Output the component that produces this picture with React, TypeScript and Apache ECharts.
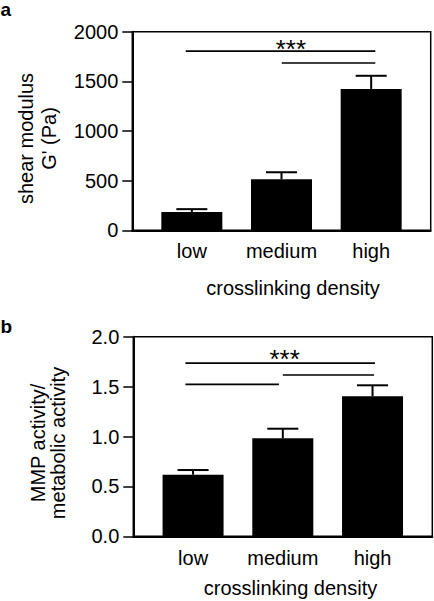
import React, { useEffect, useRef } from "react";
import * as echarts from "echarts";

// ---------- data ----------
const categories = ["low", "medium", "high"];

// panel a: shear modulus G' (Pa)
const modulusMean = [184, 513, 1424];
const modulusErr = [29, 71, 132];
const modulusTicks = { min: 0, max: 2000, interval: 500 };
// significance bars: [fromCategory, fromOffset(bands), toCategory, toOffset(bands), level]
const modulusSig = [
  [0, -0.068, 2, 0.046, 1805],
  [1, 0.003, 2, 0.046, 1685],
];
const modulusStars = [[1, 0.104, 1827]];

// panel b: MMP activity / metabolic activity
const mmpMean = [0.617, 0.982, 1.403];
const mmpErr = [0.047, 0.096, 0.11];
const mmpTicks = { min: 0, max: 2, interval: 0.5 };
const mmpSig = [
  [0, -0.085, 2, 0.027, 1.736],
  [1, 0.0, 2, 0.017, 1.616],
  [0, -0.085, 1, -0.043, 1.523],
];
const mmpStars = [[1, 0.02, 1.775]];

const FONT = "'Liberation Sans', Arial, Helvetica, sans-serif";

function errorSeries(xi: number, mean: number[], err: number[]) {
  return {
    type: "custom",
    xAxisIndex: xi,
    yAxisIndex: xi,
    encode: { x: 0, y: [1, 2] },
    data: mean.map((v, i) => [i, v, v + err[i]]),
    z: 3,
    renderItem: (_p: any, api: any) => {
      const i = api.value(0);
      const p0 = api.coord([i, api.value(1)]);
      const p1 = api.coord([i, api.value(2)]);
      const hw = api.size([1, 0])[0] * 0.173;
      return {
        type: "group",
        children: [
          {
            type: "line",
            shape: { x1: p0[0], y1: p0[1], x2: p1[0], y2: p1[1] },
            style: { stroke: "#000", lineWidth: 2 },
          },
          {
            type: "line",
            shape: { x1: p1[0] - hw, y1: p1[1], x2: p1[0] + hw, y2: p1[1] },
            style: { stroke: "#000", lineWidth: 2 },
          },
        ],
      };
    },
  };
}

function sigSeries(xi: number, sig: number[][]) {
  return {
    type: "custom",
    xAxisIndex: xi,
    yAxisIndex: xi,
    encode: { x: [0, 2], y: 4 },
    data: sig,
    renderItem: (_p: any, api: any) => {
      const band = api.size([1, 0])[0];
      const a = api.coord([api.value(0), api.value(4)]);
      const b = api.coord([api.value(2), api.value(4)]);
      return {
        type: "line",
        shape: {
          x1: a[0] + api.value(1) * band,
          y1: a[1],
          x2: b[0] + api.value(3) * band,
          y2: b[1],
        },
        style: { stroke: "#000", lineWidth: 1.7 },
      };
    },
  };
}

function starSeries(xi: number, stars: number[][]) {
  return {
    type: "custom",
    xAxisIndex: xi,
    yAxisIndex: xi,
    encode: { x: 0, y: 2 },
    data: stars,
    renderItem: (_p: any, api: any) => {
      const band = api.size([1, 0])[0];
      const c = api.coord([api.value(0), api.value(2)]);
      return {
        type: "text",
        x: c[0] + api.value(1) * band,
        y: c[1],
        style: {
          text: "***",
          fontSize: 26,
          fontFamily: FONT,
          fill: "#000",
          align: "center",
          verticalAlign: "middle",
        },
      };
    },
  };
}

export default function App() {
  const ref = useRef<HTMLDivElement>(null);
  useEffect(() => {
    if (!ref.current) return;
    const chart = echarts.init(ref.current, undefined, { renderer: "svg" });

    const frameY = (idx: number, t: any, fmt: (v: number) => string) => ({
      type: "value",
      gridIndex: idx,
      min: t.min,
      max: t.max,
      interval: t.interval,
      axisLine: { show: true, lineStyle: { color: "#000", width: 2 } },
      axisTick: { show: true, inside: false, length: 10, lineStyle: { color: "#000", width: 1.5 } },
      axisLabel: {
        margin: 14,
        color: "#000",
        fontSize: 20,
        fontFamily: FONT,
        formatter: fmt,
      },
      splitLine: { show: false },
    });
    const hiddenY = (idx: number, t: any) => ({
      type: "value",
      gridIndex: idx,
      min: t.min,
      max: t.max,
      show: false,
    });
    const frameX = (idx: number) => ({
      type: "value",
      gridIndex: idx,
      min: 0,
      max: 1,
      axisLine: { show: true, onZero: false, lineStyle: { color: "#000", width: 2 } },
      axisTick: { show: false },
      axisLabel: { show: false },
      splitLine: { show: false },
    });
    const catX = (idx: number, margin: number) => ({
      type: "category",
      gridIndex: idx,
      data: categories,
      axisLine: { show: false },
      axisTick: { show: false },
      axisLabel: { interval: 0, margin, color: "#000", fontSize: 20, fontFamily: FONT },
    });

    const txt = (text: string, x: number, y: number, extra: any = {}) => ({
      type: "text",
      x,
      y,
      rotation: extra.rotation || 0,
      style: {
        text,
        fill: "#000",
        fontSize: extra.fontSize || 20,
        fontWeight: extra.fontWeight || "normal",
        fontFamily: FONT,
        align: extra.align || "center",
        verticalAlign: "middle",
        lineHeight: extra.lineHeight,
      },
    });

    chart.setOption({
      animation: false,
      backgroundColor: "#fff",
      grid: [
        { left: 132.3, right: 3.3, top: 31.7, height: 198.6, show: true, borderColor: "#000", borderWidth: 1.5, backgroundColor: "transparent" },
        { left: 147, width: 269, top: 31.7, height: 198.6 },
        { left: 133.3, right: 1.7, top: 336.7, height: 199.6, show: true, borderColor: "#000", borderWidth: 1.5, backgroundColor: "transparent" },
        { left: 148.2, width: 269.2, top: 336.7, height: 199.6 },
      ],
      xAxis: [frameX(0), catX(1, 11), frameX(2), catX(3, 12)],
      yAxis: [
        frameY(0, modulusTicks, (v: number) => String(v)),
        hiddenY(1, modulusTicks),
        frameY(2, mmpTicks, (v: number) => v.toFixed(1)),
        hiddenY(3, mmpTicks),
      ],
      series: [
        {
          type: "bar",
          xAxisIndex: 1,
          yAxisIndex: 1,
          data: modulusMean,
          barWidth: 61,
          itemStyle: { color: "#000" },
          z: 2,
        },
        errorSeries(1, modulusMean, modulusErr),
        sigSeries(1, modulusSig),
        starSeries(1, modulusStars),
        {
          type: "bar",
          xAxisIndex: 3,
          yAxisIndex: 3,
          data: mmpMean,
          barWidth: 61,
          itemStyle: { color: "#000" },
          z: 2,
        },
        errorSeries(3, mmpMean, mmpErr),
        sigSeries(3, mmpSig),
        starSeries(3, mmpStars),
      ],
      graphic: [
        txt("a", 0.5, 9, { fontSize: 19, fontWeight: "bold", align: "left" }),
        txt("b", 0.5, 326.7, { fontSize: 19, fontWeight: "bold", align: "left" }),
        txt("shear modulus\nG' (Pa)", 37.3, 138.5, { rotation: Math.PI / 2, lineHeight: 23 }),
        txt("MMP activity/\nmetabolic activity", 48, 443, { rotation: Math.PI / 2, lineHeight: 19.5 }),
        txt("crosslinking density", 293, 287.6),
        txt("crosslinking density", 290.5, 588),
      ],
    });
    return () => chart.dispose();
  }, []);
  return (
    <div
      ref={ref}
      style={{ position: "fixed", left: 0, top: 0, width: 434, height: 601, background: "#fff" }}
    />
  );
}
